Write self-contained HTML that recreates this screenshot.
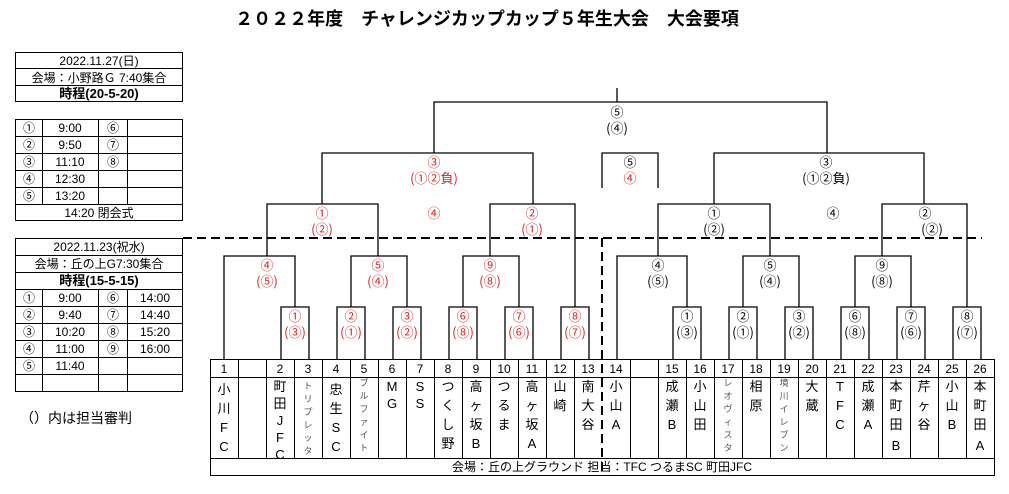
<!DOCTYPE html>
<html><head><meta charset="utf-8"><style>
html,body{margin:0;padding:0;background:#fff;}
svg{display:block;font-family:"Liberation Sans","Noto Sans CJK JP",sans-serif;}
</style></head><body>
<svg width="1009" height="494" viewBox="0 0 1009 494" xmlns="http://www.w3.org/2000/svg">
<rect width="1009" height="494" fill="#fff"/>
<text x="487" y="25" font-size="18" font-weight="bold" text-anchor="middle" font-family="'Noto Sans CJK JP',sans-serif">２０２２年度　チャレンジカップカップ５年生大会　大会要項</text>

<g stroke="#000" stroke-width="1" fill="none">
<rect x="15.5" y="52.5" width="167" height="49"/>
<line x1="15" y1="68.5" x2="182" y2="68.5"/><line x1="15" y1="85.5" x2="182" y2="85.5"/>
<rect x="15.5" y="119.5" width="167" height="101"/>
<line x1="15" y1="136.5" x2="182" y2="136.5"/><line x1="15" y1="153.5" x2="182" y2="153.5"/>
<line x1="15" y1="170.5" x2="182" y2="170.5"/><line x1="15" y1="187.5" x2="182" y2="187.5"/>
<line x1="15" y1="204.5" x2="182" y2="204.5"/>
<line x1="42.5" y1="119" x2="42.5" y2="204"/><line x1="98.5" y1="119" x2="98.5" y2="204"/><line x1="127.5" y1="119" x2="127.5" y2="204"/>
<rect x="15.5" y="238.5" width="167" height="153"/>
<line x1="15" y1="255.5" x2="182" y2="255.5"/><line x1="15" y1="272.5" x2="182" y2="272.5"/>
<line x1="15" y1="289.5" x2="182" y2="289.5"/><line x1="15" y1="306.5" x2="182" y2="306.5"/>
<line x1="15" y1="323.5" x2="182" y2="323.5"/><line x1="15" y1="340.5" x2="182" y2="340.5"/>
<line x1="15" y1="357.5" x2="182" y2="357.5"/><line x1="15" y1="374.5" x2="182" y2="374.5"/>
<line x1="42.5" y1="289" x2="42.5" y2="391"/><line x1="98.5" y1="289" x2="98.5" y2="391"/><line x1="127.5" y1="289" x2="127.5" y2="391"/>
</g>
<g font-size="12" text-anchor="middle" fill="#000">
<text x="99" y="65">2022.11.27(日)</text>
<text x="99" y="82">会場：小野路Ｇ 7:40集合</text>
<text x="99" y="98" font-weight="bold" font-size="13">時程(20-5-20)</text>
<text x="29" y="132">①</text><text x="70" y="132">9:00</text><text x="113" y="132">⑥</text>
<text x="29" y="149">②</text><text x="70" y="149">9:50</text><text x="113" y="149">⑦</text>
<text x="29" y="166">③</text><text x="70" y="166">11:10</text><text x="113" y="166">⑧</text>
<text x="29" y="183">④</text><text x="70" y="183">12:30</text>
<text x="29" y="200">⑤</text><text x="70" y="200">13:20</text>
<text x="99" y="217">14:20 閉会式</text>
<text x="99" y="251">2022.11.23(祝水)</text>
<text x="99" y="268">会場：丘の上G7:30集合</text>
<text x="99" y="285" font-weight="bold" font-size="13">時程(15-5-15)</text>
<text x="29" y="302">①</text><text x="70" y="302">9:00</text><text x="113" y="302">⑥</text><text x="155" y="302">14:00</text>
<text x="29" y="319">②</text><text x="70" y="319">9:40</text><text x="113" y="319">⑦</text><text x="155" y="319">14:40</text>
<text x="29" y="336">③</text><text x="70" y="336">10:20</text><text x="113" y="336">⑧</text><text x="155" y="336">15:20</text>
<text x="29" y="353">④</text><text x="70" y="353">11:00</text><text x="113" y="353">⑨</text><text x="155" y="353">16:00</text>
<text x="29" y="370">⑤</text><text x="70" y="370">11:40</text>
</g>
<text x="20" y="423" font-size="14">（）内は担当審判</text>

<g stroke="#000" stroke-width="1.3" fill="none">
<polyline points="617,88 617,102"/>
<polyline points="434,153 434,102 827,102 827,153"/>
<polyline points="322,204 322,153 533,153 533,204"/>
<polyline points="714,204 714,153 924,153 924,204"/>
<polyline points="602,188 602,153 658,153 658,188"/>
<polyline points="267,256 267,204 378,204 378,256"/>
<polyline points="490,256 490,204 575,204 575,307"/>
<polyline points="658,256 658,204 770,204 770,256"/>
<polyline points="882,256 882,204 967,204 967,307"/>
<polyline points="224,359 224,256 295,256 295,307"/>
<polyline points="351,307 351,256 407,256 407,307"/>
<polyline points="463,307 463,256 519,256 519,307"/>
<polyline points="617,359 617,256 687,256 687,307"/>
<polyline points="743,307 743,256 799,256 799,307"/>
<polyline points="855,307 855,256 911,256 911,307"/>
<polyline points="281,359 281,307 309,307 309,359"/>
<polyline points="337,359 337,307 365,307 365,359"/>
<polyline points="393,359 393,307 421,307 421,359"/>
<polyline points="449,359 449,307 477,307 477,359"/>
<polyline points="505,359 505,307 533,307 533,359"/>
<polyline points="561,359 561,307 589,307 589,359"/>
<polyline points="673,359 673,307 701,307 701,359"/>
<polyline points="729,359 729,307 757,307 757,359"/>
<polyline points="785,359 785,307 813,307 813,359"/>
<polyline points="841,359 841,307 869,307 869,359"/>
<polyline points="897,359 897,307 925,307 925,359"/>
<polyline points="953,359 953,307 981,307 981,359"/>
</g>
<g stroke="#000" stroke-width="2" stroke-dasharray="9,5" fill="none">
<line x1="183" y1="238" x2="982" y2="238"/>
<line x1="602" y1="238" x2="602" y2="476"/>
</g>

<g font-size="13" text-anchor="middle" font-family="'Noto Sans CJK JP',sans-serif">
<g fill="#000">
<text x="617" y="117">⑤</text><text x="617" y="133">(④)</text>
<text x="630" y="167">⑤</text>
<text x="826" y="167">③</text><text x="826" y="183">(①②負)</text>
<text x="714" y="218">①</text><text x="714" y="234">(②)</text>
<text x="833" y="218">④</text>
<text x="925" y="218">②</text><text x="932" y="234">(②)</text>
<text x="658" y="270">④</text><text x="658" y="286">(⑤)</text>
<text x="770" y="270">⑤</text><text x="770" y="286">(④)</text>
<text x="882" y="270">⑨</text><text x="882" y="286">(⑧)</text>
<text x="687" y="321">①</text><text x="687" y="337">(③)</text>
<text x="743" y="321">②</text><text x="743" y="337">(①)</text>
<text x="799" y="321">③</text><text x="799" y="337">(②)</text>
<text x="855" y="321">⑥</text><text x="855" y="337">(⑧)</text>
<text x="911" y="321">⑦</text><text x="911" y="337">(⑥)</text>
<text x="967" y="321">⑧</text><text x="967" y="337">(⑦)</text>
</g>
<g fill="#e02020">
<text x="630" y="183">④</text>
<text x="434" y="167">③</text><text x="434" y="183">(①②負)</text>
<text x="322" y="218">①</text><text x="322" y="234">(②)</text>
<text x="434" y="218">④</text>
<text x="532" y="218">②</text><text x="532" y="234">(①)</text>
<text x="267" y="270">④</text><text x="267" y="286">(⑤)</text>
<text x="378" y="270">⑤</text><text x="378" y="286">(④)</text>
<text x="490" y="270">⑨</text><text x="490" y="286">(⑧)</text>
<text x="295" y="321">①</text><text x="295" y="337">(③)</text>
<text x="351" y="321">②</text><text x="351" y="337">(①)</text>
<text x="407" y="321">③</text><text x="407" y="337">(②)</text>
<text x="463" y="321">⑥</text><text x="463" y="337">(⑧)</text>
<text x="519" y="321">⑦</text><text x="519" y="337">(⑥)</text>
<text x="575" y="321">⑧</text><text x="575" y="337">(⑦)</text>
</g>
</g>

<g stroke="#000" stroke-width="1" fill="none">
<rect x="210.5" y="359.5" width="784" height="116"/>
<line x1="210" y1="377.5" x2="995" y2="377.5"/>
<line x1="210" y1="458.5" x2="995" y2="458.5"/>
<path d="M238.5 359V458M266.5 359V458M294.5 359V458M322.5 359V458M350.5 359V458M378.5 359V458M406.5 359V458M434.5 359V458M462.5 359V458M490.5 359V458M518.5 359V458M546.5 359V458M574.5 359V458M630.5 359V458M658.5 359V458M686.5 359V458M714.5 359V458M742.5 359V458M770.5 359V458M798.5 359V458M826.5 359V458M854.5 359V458M882.5 359V458M910.5 359V458M938.5 359V458M966.5 359V458"/>
</g>
<g font-size="12" text-anchor="middle" fill="#000">
<text x="224" y="373">1</text><text x="280" y="373">2</text><text x="308" y="373">3</text><text x="336" y="373">4</text><text x="364" y="373">5</text><text x="392" y="373">6</text><text x="420" y="373">7</text><text x="448" y="373">8</text><text x="476" y="373">9</text><text x="504" y="373">10</text><text x="532" y="373">11</text><text x="560" y="373">12</text><text x="588" y="373">13</text>
<text x="616" y="373">14</text><text x="672" y="373">15</text><text x="700" y="373">16</text><text x="728" y="373">17</text><text x="756" y="373">18</text><text x="784" y="373">19</text><text x="812" y="373">20</text><text x="840" y="373">21</text><text x="868" y="373">22</text><text x="896" y="373">23</text><text x="924" y="373">24</text><text x="952" y="373">25</text><text x="980" y="373">26</text>
</g>
<g font-size="13" text-anchor="middle" fill="#000" font-family="'Liberation Sans','Noto Sans CJK JP',sans-serif">
<text x="224" y="394">小<tspan x="224" dy="19">川</tspan><tspan x="224" dy="19">F</tspan><tspan x="224" dy="19">C</tspan></text>
<text x="280" y="391">町<tspan x="280" dy="17">田</tspan><tspan x="280" dy="17">J</tspan><tspan x="280" dy="17">F</tspan><tspan x="280" dy="17">C</tspan></text>
<text x="336" y="394">忠<tspan x="336" dy="19">生</tspan><tspan x="336" dy="19">S</tspan><tspan x="336" dy="19">C</tspan></text>
<text x="392" y="391">M<tspan x="392" dy="17">G</tspan></text>
<text x="420" y="391">S<tspan x="420" dy="17">S</tspan></text>
<text x="448" y="391">つ<tspan x="448" dy="19">く</tspan><tspan x="448" dy="19">し</tspan><tspan x="448" dy="19">野</tspan></text>
<text x="476" y="391">高<tspan x="476" dy="19">ヶ</tspan><tspan x="476" dy="19">坂</tspan><tspan x="476" dy="19">B</tspan></text>
<text x="504" y="391">つ<tspan x="504" dy="19">る</tspan><tspan x="504" dy="19">ま</tspan></text>
<text x="532" y="391">高<tspan x="532" dy="19">ヶ</tspan><tspan x="532" dy="19">坂</tspan><tspan x="532" dy="19">A</tspan></text>
<text x="560" y="391">山<tspan x="560" dy="19">崎</tspan></text>
<text x="588" y="391">南<tspan x="588" dy="19">大</tspan><tspan x="588" dy="19">谷</tspan></text>
<text x="616" y="391">小<tspan x="616" dy="19">山</tspan><tspan x="616" dy="19">A</tspan></text>
<text x="672" y="391">成<tspan x="672" dy="19">瀬</tspan><tspan x="672" dy="19">B</tspan></text>
<text x="700" y="391">小<tspan x="700" dy="19">山</tspan><tspan x="700" dy="19">田</tspan></text>
<text x="756" y="391">相<tspan x="756" dy="19">原</tspan></text>
<text x="812" y="391">大<tspan x="812" dy="19">蔵</tspan></text>
<text x="840" y="391">T<tspan x="840" dy="19">F</tspan><tspan x="840" dy="19">C</tspan></text>
<text x="868" y="391">成<tspan x="868" dy="19">瀬</tspan><tspan x="868" dy="19">A</tspan></text>
<text x="896" y="391">本<tspan x="896" dy="19">町</tspan><tspan x="896" dy="19">田</tspan><tspan x="896" dy="21">B</tspan></text>
<text x="924" y="391">芹<tspan x="924" dy="19">ヶ</tspan><tspan x="924" dy="19">谷</tspan></text>
<text x="952" y="391">小<tspan x="952" dy="19">山</tspan><tspan x="952" dy="19">B</tspan></text>
<text x="980" y="391">本<tspan x="980" dy="19">町</tspan><tspan x="980" dy="19">田</tspan><tspan x="980" dy="21">A</tspan></text>
</g>
<g font-size="9" text-anchor="middle" fill="#555" font-family="'Noto Sans CJK JP',sans-serif">
<text x="308" y="389">ト<tspan x="308" dy="13">リ</tspan><tspan x="308" dy="13">プ</tspan><tspan x="308" dy="13">レ</tspan><tspan x="308" dy="13">ッ</tspan><tspan x="308" dy="13">タ</tspan></text>
<text x="364" y="386">ブ<tspan x="364" dy="13">ル</tspan><tspan x="364" dy="13">フ</tspan><tspan x="364" dy="13">ァ</tspan><tspan x="364" dy="13">イ</tspan><tspan x="364" dy="13">ト</tspan></text>
<text x="728" y="386">レ<tspan x="728" dy="13">オ</tspan><tspan x="728" dy="13">ヴ</tspan><tspan x="728" dy="13">ィ</tspan><tspan x="728" dy="13">ス</tspan><tspan x="728" dy="13">タ</tspan></text>
<text x="784" y="386">境<tspan x="784" dy="13">川</tspan><tspan x="784" dy="13">イ</tspan><tspan x="784" dy="13">レ</tspan><tspan x="784" dy="13">ブ</tspan><tspan x="784" dy="13">ン</tspan></text>
</g>
<text x="602" y="471" font-size="12" text-anchor="middle">会場：丘の上グラウンド  担当：TFC  つるまSC  町田JFC</text>
</svg>
</body></html>
